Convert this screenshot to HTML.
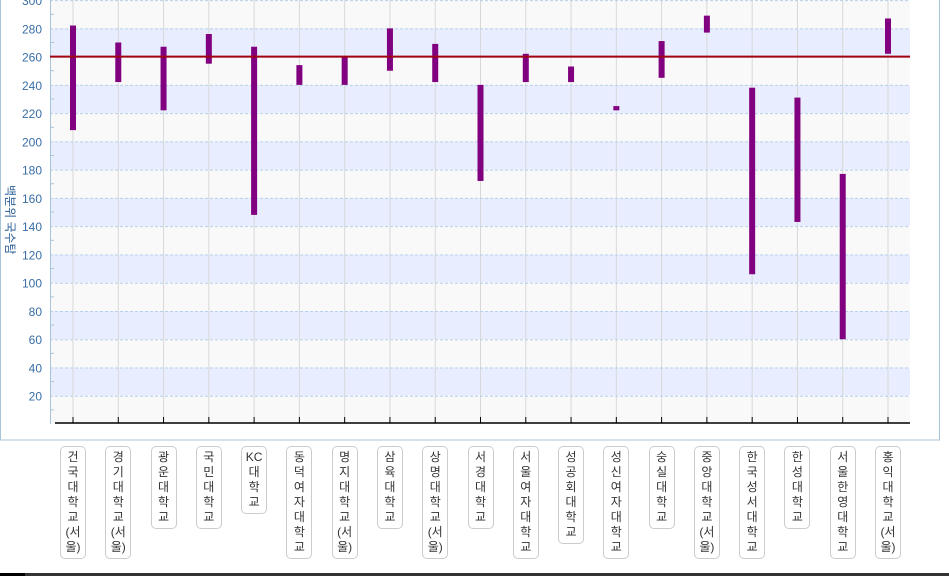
<!DOCTYPE html>
<html><head><meta charset="utf-8"><style>
body{margin:0;width:949px;height:576px;overflow:hidden;background:#fff;font-family:"Liberation Sans","Noto Sans CJK KR",sans-serif;position:relative}
.lbl{position:absolute;top:446px;border:1px solid #ccc;border-radius:5px;background:#fff;font-size:12px;line-height:15px;color:#333;text-align:center;width:24px;padding:3px 0;white-space:nowrap;transform:translateX(-13px)}
</style></head><body>
<svg id="chart" width="949" height="576" style="position:absolute;left:0;top:0"></svg>
<div id="labels"></div>
<div style="position:absolute;left:0;top:573px;width:949px;height:3px;background:#333"></div>
<div style="position:absolute;left:0;top:573px;width:25px;height:3px;background:#000"></div>
<script>
const categories=["건국대학교(서울)","경기대학교(서울)","광운대학교","국민대학교","KC대학교","동덕여자대학교","명지대학교(서울)","삼육대학교","상명대학교(서울)","서경대학교","서울여자대학교","성공회대학교","성신여자대학교","숭실대학교","중앙대학교(서울)","한국성서대학교","한성대학교","서울한영대학교","홍익대학교(서울)"];
const highs=[282,270,267,276,267,254,260,280,269,240,262,253,225,271,289,238,231,177,287];
const lows=[208,242,222,255,148,240,240,250,242,172,242,242,222,245,277,106,143,60,262];
const refValue=260;
const yTicks=[20,40,60,80,100,120,140,160,180,200,220,240,260,280,300];
const NS="http://www.w3.org/2000/svg";
const svg=document.getElementById('chart');
const L=50,R=910,B=424;
const y=v=>B-v*1.413;
const x=i=>73+i*(888-73)/(categories.length-1);
function mk(t,a){const e=document.createElementNS(NS,t);for(const k in a)e.setAttribute(k,a[k]);svg.appendChild(e);return e;}
let e=mk('rect',{x:0.5,y:-1,width:939,height:441,fill:'none',stroke:'#a8c4d8'});

for(let v=0;v<300;v+=20){
 e=mk('rect',{x:L,y:y(v+20),width:R-L,height:y(v)-y(v+20),fill:(v/20)%2===1?'#e8eeff':'#f9f9f9'});
 
}
categories.forEach((c,i)=>{e=mk('line',{x1:x(i),x2:x(i),y1:0,y2:B,stroke:'#d8d8d8'});
 });
yTicks.forEach(t=>{
 e=mk('line',{x1:L,x2:R,y1:y(t)+.5,y2:y(t)+.5,stroke:'#b8d0e8','stroke-dasharray':'3,2'});
 
 e=mk('text',{x:42,y:y(t)+5,'text-anchor':'end','font-size':12,fill:'#3a6ea5'});e.textContent=t;
 
 mk('line',{x1:L,x2:L+4,y1:y(t-10),y2:y(t-10),stroke:'#a8c4d8'});
});
e=mk('line',{x1:L+.5,x2:L+.5,y1:0,y2:B,stroke:'#a8c4d8'});

e=mk('line',{x1:55,x2:R,y1:423,y2:423,stroke:'#000','stroke-width':1.5});

categories.forEach((c,i)=>mk('line',{x1:x(i),x2:x(i),y1:417,y2:423,stroke:'#000'}));
e=mk('text',{x:0,y:0,'font-size':12,fill:'#2a5c95',transform:'translate(6,185) rotate(90)'});e.textContent='백분위 국수탐';

categories.forEach((c,i)=>{
 e=mk('rect',{x:x(i)-3,y:y(highs[i]),width:6,height:y(lows[i])-y(highs[i]),fill:'#800080'});
 
});
e=mk('line',{x1:L,x2:R,y1:y(refValue),y2:y(refValue),stroke:'#a00010','stroke-width':2});

function splitLabel(s){
 if(s.startsWith('KC')) return ['KC'].concat(splitLabel(s.slice(2)));
 const out=[];const ch=[...s];
 for(let k=0;k<ch.length;k++){
  if(ch[k]==='('){out.push('('+ch[k+1]);k++;}
  else if(ch[k]===')'){out[out.length-1]+=')';}
  else out.push(ch[k]);
 }
 return out;
}
const lab=document.getElementById('labels');
categories.forEach((c,i)=>{const d=document.createElement('div');d.className='lbl';d.style.left=x(i)+'px';
 splitLabel(c).forEach((p,k)=>{if(k)d.appendChild(document.createElement('br'));d.appendChild(document.createTextNode(p));});
 
 
 lab.appendChild(d);});
</script>
</body></html>
